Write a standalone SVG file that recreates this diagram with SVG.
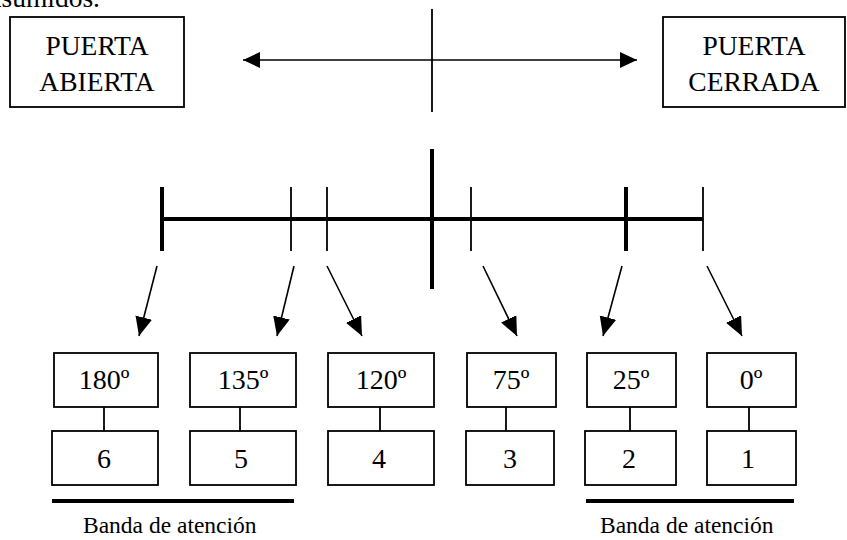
<svg xmlns="http://www.w3.org/2000/svg" width="847" height="540" viewBox="0 0 847 540">
<style>
  text { font-family: "Liberation Serif", "Times New Roman", serif; fill: #000; }
  .big { font-size: 27.5px; }
  .deg { font-size: 28px; text-anchor: middle; }
  .band { font-size: 23.5px; }
  .box { fill: #fff; stroke: #000; stroke-width: 1.8; }
  .thin { stroke: #000; stroke-width: 1.8; fill: none; }
  .thick { stroke: #000; stroke-width: 4; fill: none; }
  .arr { stroke: #000; stroke-width: 1.6; fill: none; marker-end: url(#ah); }
</style>
<defs>
  <marker id="ah" markerUnits="userSpaceOnUse" markerWidth="20" markerHeight="18" refX="19" refY="8.5" orient="auto">
    <path d="M0,0 L19,8.5 L0,17 Z" fill="#000"/>
  </marker>
  <marker id="ah2" markerUnits="userSpaceOnUse" markerWidth="18" markerHeight="18" refX="17" refY="8" orient="auto-start-reverse">
    <path d="M0,0 L17,8 L0,16 Z" fill="#000"/>
  </marker>
</defs>

<text class="big" x="100" y="7" text-anchor="end">asumidos.</text>

<g id="puerta-abierta">
  <rect class="box" x="10" y="17" width="174" height="90"/>
  <text class="big" x="97" y="55" text-anchor="middle">PUERTA</text>
  <text class="big" x="97" y="91" text-anchor="middle">ABIERTA</text>
</g>
<g id="puerta-cerrada">
  <rect class="box" x="663" y="17" width="182" height="90"/>
  <text class="big" x="754" y="55" text-anchor="middle">PUERTA</text>
  <text class="big" x="754" y="91" text-anchor="middle">CERRADA</text>
</g>

<g id="scale">
  <line class="thick" x1="162" y1="219" x2="703" y2="219" stroke-width="3.5"/>
  <line class="thick" x1="162" y1="187" x2="162" y2="251"/>
  <line class="thin" x1="291" y1="187" x2="291" y2="251"/>
  <line class="thin" x1="327" y1="187" x2="327" y2="251"/>
  <line class="thick" x1="432" y1="149" x2="432" y2="289"/>
  <line class="thin" x1="471" y1="187" x2="471" y2="251"/>
  <line class="thick" x1="626" y1="187" x2="626" y2="251"/>
  <line class="thin" x1="703" y1="187" x2="703" y2="251"/>
</g>

<g id="connectors">
  <line class="thin" x1="432" y1="9" x2="432" y2="112" stroke-width="2"/>
  <line x1="243" y1="60" x2="637" y2="60" stroke="#000" stroke-width="1.6" marker-start="url(#ah2)" marker-end="url(#ah2)"/>
  <line class="arr" x1="157" y1="266" x2="139" y2="336"/>
  <line class="arr" x1="294" y1="266" x2="277" y2="336"/>
  <line class="arr" x1="327" y1="266" x2="362" y2="336"/>
  <line class="arr" x1="483" y1="266" x2="517" y2="336"/>
  <line class="arr" x1="622" y1="266" x2="603" y2="336"/>
  <line class="arr" x1="707" y1="266" x2="742" y2="336"/>
  <line class="thin" x1="104" y1="407" x2="104" y2="431"/>
  <line class="thin" x1="240" y1="407" x2="240" y2="431"/>
  <line class="thin" x1="380" y1="407" x2="380" y2="431"/>
  <line class="thin" x1="506" y1="407" x2="506" y2="431"/>
  <line class="thin" x1="630" y1="407" x2="630" y2="431"/>
  <line class="thin" x1="749" y1="407" x2="749" y2="431"/>
</g>

<g id="n180">
  <rect class="box" x="54" y="353" width="104" height="54"/>
  <text class="deg" x="104" y="389">180º</text>
</g>
<g id="n6">
  <rect class="box" x="52" y="431" width="106" height="54"/>
  <text class="deg" x="104" y="468">6</text>
</g>
<g id="n135">
  <rect class="box" x="190" y="353" width="106" height="54"/>
  <text class="deg" x="243" y="389">135º</text>
</g>
<g id="n5">
  <rect class="box" x="190" y="431" width="106" height="54"/>
  <text class="deg" x="241" y="468">5</text>
</g>
<g id="n120">
  <rect class="box" x="328" y="353" width="106" height="54"/>
  <text class="deg" x="381" y="389">120º</text>
</g>
<g id="n4">
  <rect class="box" x="328" y="431" width="106" height="54"/>
  <text class="deg" x="379" y="468">4</text>
</g>
<g id="n75">
  <rect class="box" x="467" y="353" width="89" height="54"/>
  <text class="deg" x="511" y="389">75º</text>
</g>
<g id="n3">
  <rect class="box" x="466" y="431" width="88" height="54"/>
  <text class="deg" x="510" y="468">3</text>
</g>
<g id="n25">
  <rect class="box" x="587" y="353" width="89" height="54"/>
  <text class="deg" x="631" y="389">25º</text>
</g>
<g id="n2">
  <rect class="box" x="585" y="431" width="91" height="54"/>
  <text class="deg" x="629" y="468">2</text>
</g>
<g id="n0">
  <rect class="box" x="707" y="353" width="89" height="54"/>
  <text class="deg" x="751" y="389">0º</text>
</g>
<g id="n1">
  <rect class="box" x="707" y="431" width="89" height="54"/>
  <text class="deg" x="748" y="468">1</text>
</g>

<g id="band-left">
  <line class="thick" x1="52" y1="501" x2="294" y2="501" stroke-width="3.5"/>
  <text class="band" x="83" y="533">Banda de atención</text>
</g>
<g id="band-right">
  <line class="thick" x1="586" y1="501" x2="794" y2="501" stroke-width="3.5"/>
  <text class="band" x="600" y="533">Banda de atención</text>
</g>
</svg>
